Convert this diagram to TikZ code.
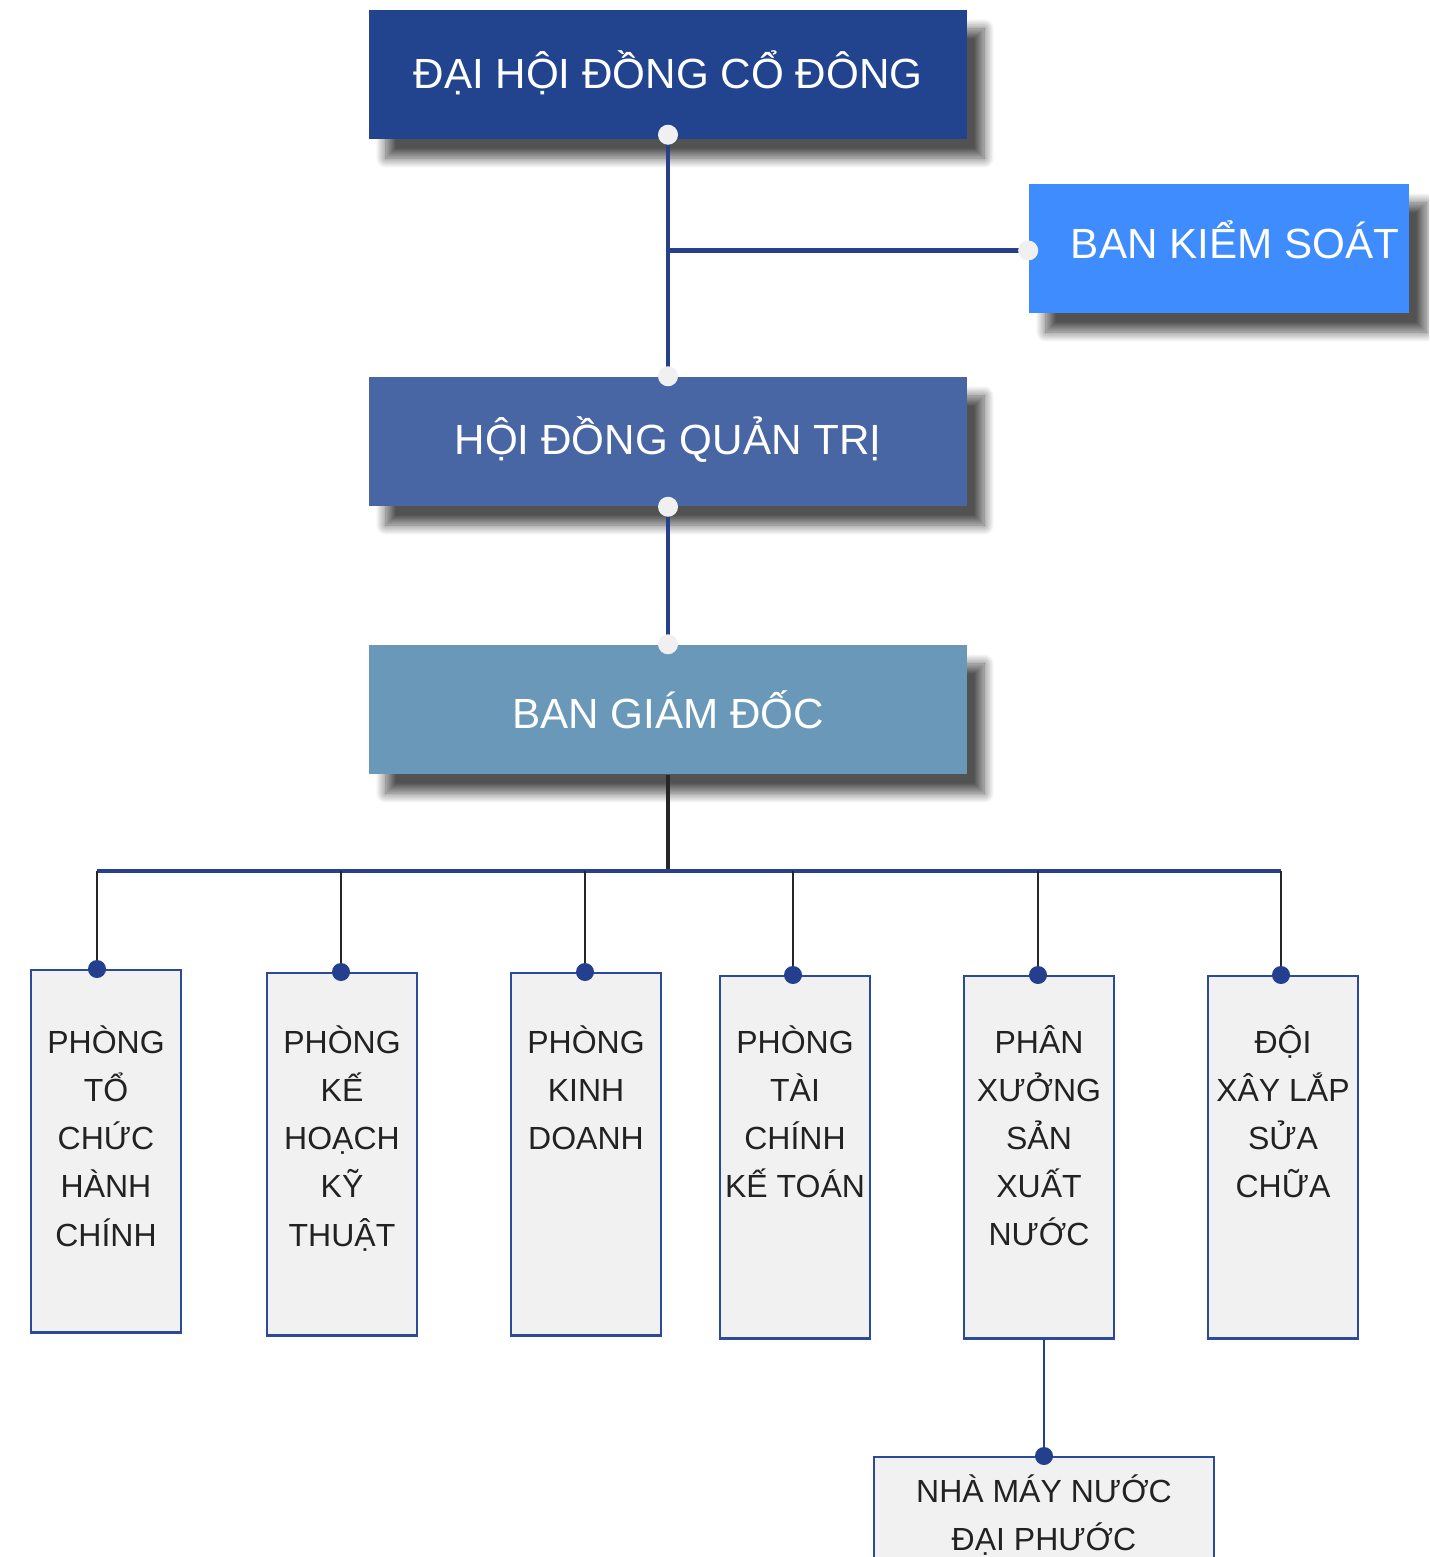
\documentclass[tikz,border=0pt]{standalone}
\usepackage{fontspec}
\setmainfont{Liberation Sans}
\usepackage{tikz}
\usetikzlibrary{calc, positioning, shadows.blur}
\definecolor{dhdcblue}{HTML}{22448E}
\definecolor{bksblue}{HTML}{3F8CFF}
\definecolor{hdqtblue}{HTML}{4865A4}
\definecolor{bgdblue}{HTML}{6A98B8}
\definecolor{lineblue}{HTML}{26408C}
\definecolor{dotblue}{HTML}{243F8E}
\definecolor{deptfill}{HTML}{F1F1F1}
\definecolor{deptedge}{HTML}{2B4A9A}
\definecolor{depttext}{HTML}{222222}
\newcommand{\deptbox}[2][0.8cm]{\parbox[t][3.62cm][t]{1.5cm}{\centering\rule{0pt}{#1}#2}}

\begin{document}
\begin{tikzpicture}[
    x=0.01cm, y=-0.01cm,
    board/.style={rectangle, minimum width=5.98cm, minimum height=1.29cm,
                  inner sep=0pt, text=white, font=\fontsize{12}{14}\selectfont,
                  blur shadow={shadow xshift=0.17cm, shadow yshift=-0.19cm,
                               shadow blur radius=0.1cm, shadow blur steps=12,
                               shadow opacity=68}},
    dept/.style={rectangle, draw=deptedge, line width=0.7pt, fill=deptfill,
                 inner sep=0pt, text=depttext, font=\fontsize{9.1}{13.7}\selectfont},
    bline/.style={draw=lineblue, line width=1.3pt},
    bus/.style={draw=lineblue, line width=1.4pt},
    trunk/.style={draw=black!85, line width=1.2pt},
    drop/.style={draw=black!85, line width=0.7pt},
    thinblue/.style={draw=lineblue, line width=0.8pt},
    lightdot/.style={fill=black!6},
    bluedot/.style={fill=dotblue}
  ]
    \clip (0,0) rectangle (1429,1557);

    \node[board, fill=dhdcblue] (dhdc) at (668,74.5)  {\raisebox{0.1cm}{ĐẠI HỘI ĐỒNG CỔ ĐÔNG}};
    \node[board, fill=bksblue, minimum width=3.8cm] (bks) at (1219,248.5)
      {\raisebox{0.17cm}{\hspace*{0.32cm}BAN KIỂM SOÁT}};
    \node[board, fill=hdqtblue] (hdqt) at (668,441.5) {\raisebox{0.12cm}{HỘI ĐỒNG QUẢN TRỊ}};
    \node[board, fill=bgdblue]  (bgd)  at (668,709.5) {\raisebox{-0.05cm}{BAN GIÁM ĐỐC}};

    \node[dept, anchor=north] (p1) at (106,969)  {\deptbox[0.83cm]{PHÒNG\\TỔ\\CHỨC\\HÀNH\\CHÍNH}};
    \node[dept, anchor=north] (p2) at (342,972)  {\deptbox{PHÒNG\\KẾ\\HOẠCH\\KỸ\\THUẬT}};
    \node[dept, anchor=north] (p3) at (586,972)  {\deptbox{PHÒNG\\KINH\\DOANH}};
    \node[dept, anchor=north] (p4) at (795,975)  {\deptbox[0.77cm]{PHÒNG\\TÀI\\CHÍNH\\KẾ TOÁN}};
    \node[dept, anchor=north] (p5) at (1039,975) {\deptbox[0.77cm]{PHÂN\\XƯỞNG\\SẢN\\XUẤT\\NƯỚC}};
    \node[dept, anchor=north] (p6) at (1283,975) {\deptbox[0.77cm]{ĐỘI\\XÂY LẮP\\SỬA\\CHỮA}};
    \node[dept, anchor=north] (nmn) at (1044,1456)
      {\parbox[t][1.6cm][t]{3.4cm}{\centering\rule{0pt}{0.45cm}NHÀ MÁY NƯỚC\\ĐẠI PHƯỚC}};

    % upper chain
    \coordinate (j1) at ($(dhdc.south |- bks.west)+(0,2)$);
    \draw[bline] (dhdc.south) -- (hdqt.north);
    \draw[bline] (j1) -- (j1 -| bks.west);
    \draw[bline] (hdqt.south) -- (bgd.north);

    % bus to the departments
    \coordinate (t1) at (97,871);
    \coordinate (t2) at (341,871);
    \coordinate (t3) at (585,871);
    \coordinate (t4) at (793,871);
    \coordinate (t5) at (1038,871);
    \coordinate (t6) at (1281,871);
    \draw[trunk] (bgd.south) -- (bgd.south |- t1);
    \draw[bus] (t1) -- (t6);
    \foreach \i in {1,...,6}{
      \draw[drop] (t\i) -- (t\i |- p\i.north);
      \fill[bluedot] (t\i |- p\i.north) circle (0.09cm);
    }
    \draw[thinblue] (p5.south -| nmn.north) -- (nmn.north);
    \fill[bluedot] (nmn.north) circle (0.09cm);

    \fill[lightdot] ($(dhdc.south)+(0,-5)$) circle (0.1cm);
    \fill[lightdot] (hdqt.north) circle (0.1cm);
    \fill[lightdot] (j1 -| bks.west) circle (0.1cm);
    \fill[lightdot] (hdqt.south) circle (0.1cm);
    \fill[lightdot] (bgd.north) circle (0.1cm);
  \end{tikzpicture}
\end{document}
